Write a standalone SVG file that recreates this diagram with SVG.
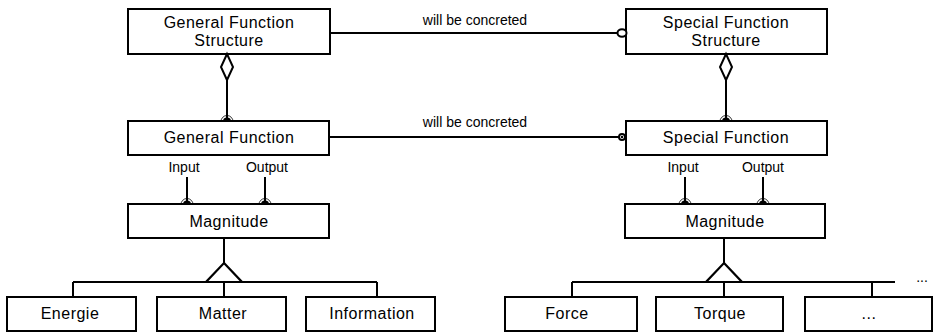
<svg xmlns="http://www.w3.org/2000/svg" width="934" height="333" viewBox="0 0 934 333">
  <style>
    .box { fill: #fff; stroke: #000; stroke-width: 2; }
    .ln { fill: none; stroke: #000; stroke-width: 2; }
    .lbl { font-family: "Liberation Sans", Arial, sans-serif; font-size: 16px; letter-spacing: 0.5px; fill: #000; text-anchor: middle; }
    .small { font-family: "Liberation Sans", Arial, sans-serif; font-size: 14px; fill: #000; text-anchor: middle; }
    .diamond { fill: #fff; stroke: #000; stroke-width: 2; }
    .tri { fill: #fff; stroke: #000; stroke-width: 2.2; }
    .dot { fill: #000; }
    .arc { fill: none; stroke: #000; stroke-width: 0.8; }
    .ring { fill: #fff; stroke: #000; stroke-width: 2; }
  </style>

  <g id="general-function-structure">
    <rect class="box" x="128" y="9" width="202" height="45"/>
    <text class="lbl" x="229" y="28">General Function</text>
    <text class="lbl" x="229" y="46">Structure</text>
  </g>

  <g id="special-function-structure">
    <rect class="box" x="626" y="9" width="201" height="45"/>
    <text class="lbl" x="726" y="28">Special Function</text>
    <text class="lbl" x="726" y="46">Structure</text>
  </g>

  <g id="general-function">
    <rect class="box" x="128" y="121" width="201" height="34"/>
    <text class="lbl" x="229" y="143">General Function</text>
  </g>

  <g id="special-function">
    <rect class="box" x="626" y="121" width="201" height="34"/>
    <text class="lbl" x="726" y="143">Special Function</text>
  </g>

  <g id="magnitude-general">
    <rect class="box" x="128" y="204" width="201" height="34"/>
    <text class="lbl" x="229" y="227">Magnitude</text>
  </g>

  <g id="magnitude-special">
    <rect class="box" x="625" y="204" width="200" height="34"/>
    <text class="lbl" x="725" y="227">Magnitude</text>
  </g>

  <g id="energie">
    <rect class="box" x="7" y="297" width="129" height="34"/>
    <text class="lbl" x="70" y="319">Energie</text>
  </g>

  <g id="matter">
    <rect class="box" x="157" y="297" width="129" height="34"/>
    <text class="lbl" x="223" y="319">Matter</text>
  </g>

  <g id="information">
    <rect class="box" x="306" y="297" width="129" height="34"/>
    <text class="lbl" x="372" y="319">Information</text>
  </g>

  <g id="force">
    <rect class="box" x="505" y="297" width="132" height="34"/>
    <text class="lbl" x="567" y="319">Force</text>
  </g>

  <g id="torque">
    <rect class="box" x="656" y="297" width="127" height="34"/>
    <text class="lbl" x="720" y="319">Torque</text>
  </g>

  <g id="more">
    <rect class="box" x="805" y="297" width="127" height="34"/>
    <text class="lbl" x="869" y="319">...</text>
  </g>

  <!-- connectors, drawn over the box edges so the end dots stay visible -->
  <g id="connectors">
    <!-- concretion links -->
    <line class="ln" x1="330" y1="33" x2="618" y2="33"/>
    <ellipse class="ring" cx="622" cy="33" rx="4.5" ry="3.8"/>
    <text class="small" x="475" y="25">will be concreted</text>

    <line class="ln" x1="330" y1="137" x2="619" y2="137"/>
    <circle class="ring" cx="622" cy="137" r="3" stroke-width="1.2"/>
    <circle class="dot" cx="622" cy="137" r="1.2"/>
    <text class="small" x="475" y="127">will be concreted</text>

    <!-- aggregation, general side -->
    <polygon class="diamond" points="227,54 233,67 227,80 221,67"/>
    <line class="ln" x1="227" y1="80" x2="227" y2="119"/>
    <path class="dot" d="M223,121.5 A4,4 0 0 1 231,121.5 Z"/>
    <path class="arc" d="M221,121.5 A6,6 0 0 1 233,121.5"/>

    <!-- aggregation, special side -->
    <polygon class="diamond" points="726,54 732,67 726,80 720,67"/>
    <line class="ln" x1="726" y1="80" x2="726" y2="119"/>
    <path class="dot" d="M722,121.5 A4,4 0 0 1 730,121.5 Z"/>
    <path class="arc" d="M720,121.5 A6,6 0 0 1 732,121.5"/>

    <!-- input / output, general side -->
    <text class="small" x="184" y="172">Input</text>
    <text class="small" x="267" y="172">Output</text>
    <line class="ln" x1="187" y1="177" x2="187" y2="202"/>
    <path class="dot" d="M183,204.5 A4,4 0 0 1 191,204.5 Z"/>
    <path class="arc" d="M181,204.5 A6,6 0 0 1 193,204.5"/>
    <line class="ln" x1="265" y1="177" x2="265" y2="202"/>
    <path class="dot" d="M261,204.5 A4,4 0 0 1 269,204.5 Z"/>
    <path class="arc" d="M259,204.5 A6,6 0 0 1 271,204.5"/>

    <!-- input / output, special side -->
    <text class="small" x="683" y="172">Input</text>
    <text class="small" x="763" y="172">Output</text>
    <line class="ln" x1="685" y1="177" x2="685" y2="202"/>
    <path class="dot" d="M681,204.5 A4,4 0 0 1 689,204.5 Z"/>
    <path class="arc" d="M679,204.5 A6,6 0 0 1 691,204.5"/>
    <line class="ln" x1="763" y1="177" x2="763" y2="202"/>
    <path class="dot" d="M759,204.5 A4,4 0 0 1 767,204.5 Z"/>
    <path class="arc" d="M757,204.5 A6,6 0 0 1 769,204.5"/>

    <!-- generalization tree, general side -->
    <line class="ln" x1="224" y1="239" x2="224" y2="263"/>
    <line class="ln" x1="73" y1="282" x2="377" y2="282"/>
    <polygon class="tri" points="224,263 242,282 206,282"/>
    <line class="ln" x1="73" y1="282" x2="73" y2="296"/>
    <line class="ln" x1="224" y1="283" x2="224" y2="296"/>
    <line class="ln" x1="377" y1="282" x2="377" y2="296"/>

    <!-- generalization tree, special side -->
    <line class="ln" x1="724" y1="239" x2="724" y2="263"/>
    <line class="ln" x1="572" y1="282" x2="895" y2="282"/>
    <polygon class="tri" points="724,263 742,282 706,282"/>
    <line class="ln" x1="572" y1="282" x2="572" y2="296"/>
    <line class="ln" x1="724" y1="283" x2="724" y2="296"/>
    <line class="ln" x1="872" y1="282" x2="872" y2="296"/>
    <text class="small" x="922" y="282">...</text>
  </g>
</svg>
